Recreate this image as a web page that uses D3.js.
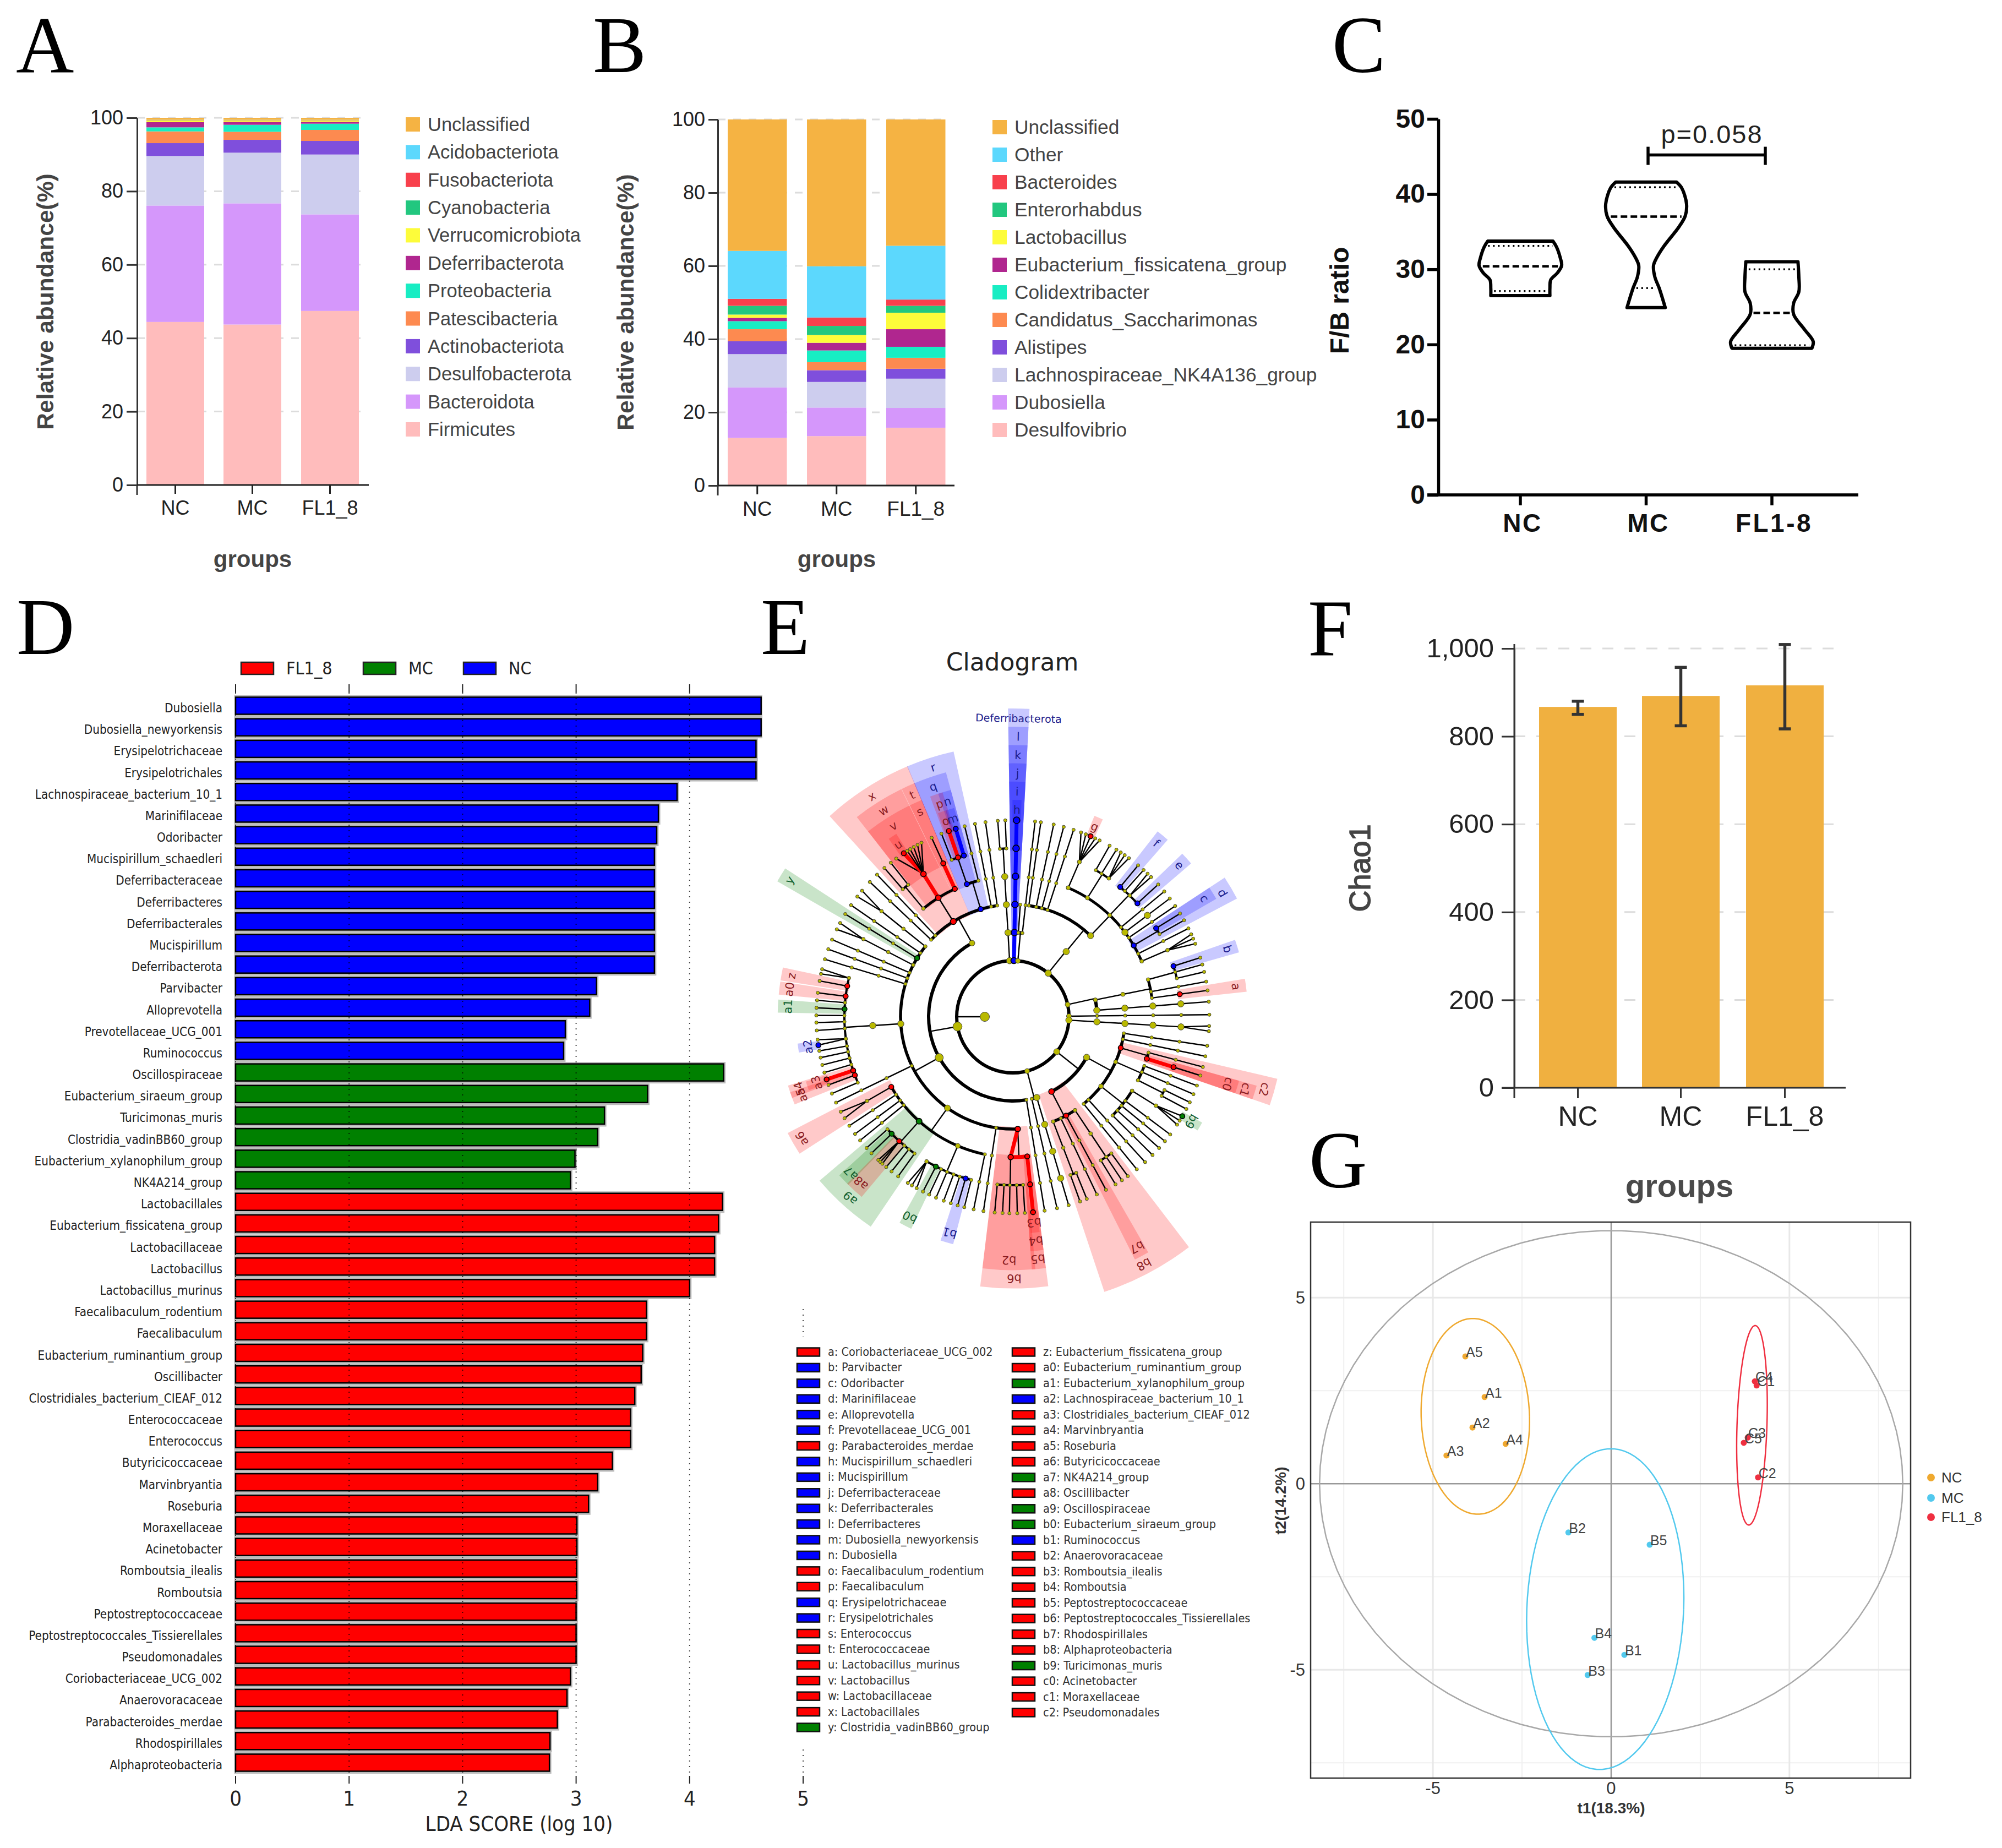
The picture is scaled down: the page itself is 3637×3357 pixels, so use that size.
<!DOCTYPE html>
<html><head><meta charset="utf-8">
<script src="https://cdn.jsdelivr.net/npm/d3@7"></script>
<style>html,body{margin:0;padding:0;background:#fff}svg{display:block}</style>
</head><body><svg id="c" width="3637" height="3357"></svg>
<script>
// ---------- Panel A ----------
const groups3=['NC','MC','FL1_8'];
const phylaNames=['Firmicutes','Bacteroidota','Desulfobacterota','Actinobacteriota','Patescibacteria','Proteobacteria','Deferribacterota','Verrucomicrobiota','Cyanobacteria','Fusobacteriota','Acidobacteriota','Unclassified'];
const phylaNC=[44.4,31.7,13.5,3.5,3.2,1.1,1.4,.5,.05,.05,.05,.55];
const phylaMC=[43.7,33.0,13.8,3.5,2.2,1.9,.8,.4,.05,.05,.05,.55];
const phylaFL=[47.4,26.3,16.3,3.7,3.0,1.7,.5,.4,.05,.05,.05,.55];
// ---------- Panel B ----------
const genusNames=['Desulfovibrio','Dubosiella','Lachnospiraceae_NK4A136_group','Alistipes','Candidatus_Saccharimonas','Colidextribacter','Eubacterium_fissicatena_group','Lactobacillus','Enterorhabdus','Bacteroides','Other','Unclassified'];
const genusNC=[13,13.8,9.1,3.5,3.3,2.2,.9,.9,2.4,1.9,13.1,35.9];
const genusMC=[13.5,7.8,7,3.2,2.2,3.2,2.1,2.1,2.5,2.3,14,40.1];
const genusFL=[15.8,5.4,8,2.7,3,3,4.8,4.5,1.9,1.7,14.7,34.5];
const stackColors=['#ffbcbc','#d597fb','#cdcdee','#7f4fdc','#fd8a50','#18edc3','#b0268f','#fdfc3a','#22c77f','#f8404c','#5cd8fd','#f5b343'];
const stackTicks=[0,20,40,60,80,100];
// ---------- Panel C ----------
const violinGroups=['NC','MC','FL1-8'];
const violinNC=[[33.75,75],[33,83],[31.5,92],[30.5,95],[29.5,85],[28.6,70],[27.5,68],[26.5,68]];
const violinMC=[[41.6,70],[40.8,82],[38.7,93],[37.1,90],[35.6,75],[33,40],[31.5,24],[30.5,17],[29,20],[27.5,30],[24.9,44]];
const violinFL=[[31,60],[29,62],[27,62],[25.5,50],[24,50],[22,75],[20.4,95],[19.5,92]];
const violinMedian=[30.4,37.0,24.2];
const violinQ1=[27.1,27.5,19.9];
const violinQ3=[33.1,40.9,30.0];
const violinTicks=[0,10,20,30,40,50];
// ---------- Panel D ----------
const ldaNames=['Dubosiella','Dubosiella_newyorkensis','Erysipelotrichaceae','Erysipelotrichales','Lachnospiraceae_bacterium_10_1','Marinifilaceae','Odoribacter','Mucispirillum_schaedleri','Deferribacteraceae','Deferribacteres','Deferribacterales','Mucispirillum','Deferribacterota','Parvibacter','Alloprevotella','Prevotellaceae_UCG_001','Ruminococcus','Oscillospiraceae','Eubacterium_siraeum_group','Turicimonas_muris','Clostridia_vadinBB60_group','Eubacterium_xylanophilum_group','NK4A214_group','Lactobacillales','Eubacterium_fissicatena_group','Lactobacillaceae','Lactobacillus','Lactobacillus_murinus','Faecalibaculum_rodentium','Faecalibaculum','Eubacterium_ruminantium_group','Oscillibacter','Clostridiales_bacterium_CIEAF_012','Enterococcaceae','Enterococcus','Butyricicoccaceae','Marvinbryantia','Roseburia','Moraxellaceae','Acinetobacter','Romboutsia_ilealis','Romboutsia','Peptostreptococcaceae','Peptostreptococcales_Tissierellales','Pseudomonadales','Coriobacteriaceae_UCG_002','Anaerovoracaceae','Parabacteroides_merdae','Rhodospirillales','Alphaproteobacteria'];
const ldaScores=[4.63,4.63,4.585,4.585,3.89,3.725,3.71,3.69,3.69,3.69,3.69,3.69,3.69,3.18,3.12,2.905,2.89,4.30,3.63,3.25,3.19,2.99,2.95,4.29,4.255,4.22,4.22,4.0,3.62,3.62,3.587,3.573,3.517,3.48,3.48,3.32,3.19,3.11,3.007,3.007,3.005,3.005,3.0,3.0,3.0,2.95,2.92,2.835,2.77,2.765];
const ldaGroupCounts=[['NC',17],['MC',6],['FL1_8',27]];
const ldaLegend=['FL1_8','MC','NC'];
const ldaColor={FL1_8:'#ff0000',MC:'#008000',NC:'#0000ff'};
// ---------- Panel E legend ----------
const cladeLegend1=[['a','Coriobacteriaceae_UCG_002','FL1_8'],['b','Parvibacter','NC'],['c','Odoribacter','NC'],['d','Marinifilaceae','NC'],['e','Alloprevotella','NC'],['f','Prevotellaceae_UCG_001','NC'],['g','Parabacteroides_merdae','FL1_8'],['h','Mucispirillum_schaedleri','NC'],['i','Mucispirillum','NC'],['j','Deferribacteraceae','NC'],['k','Deferribacterales','NC'],['l','Deferribacteres','NC'],['m','Dubosiella_newyorkensis','NC'],['n','Dubosiella','NC'],['o','Faecalibaculum_rodentium','FL1_8'],['p','Faecalibaculum','FL1_8'],['q','Erysipelotrichaceae','NC'],['r','Erysipelotrichales','NC'],['s','Enterococcus','FL1_8'],['t','Enterococcaceae','FL1_8'],['u','Lactobacillus_murinus','FL1_8'],['v','Lactobacillus','FL1_8'],['w','Lactobacillaceae','FL1_8'],['x','Lactobacillales','FL1_8'],['y','Clostridia_vadinBB60_group','MC']];
const cladeLegend2=[['z','Eubacterium_fissicatena_group','FL1_8'],['a0','Eubacterium_ruminantium_group','FL1_8'],['a1','Eubacterium_xylanophilum_group','MC'],['a2','Lachnospiraceae_bacterium_10_1','NC'],['a3','Clostridiales_bacterium_CIEAF_012','FL1_8'],['a4','Marvinbryantia','FL1_8'],['a5','Roseburia','FL1_8'],['a6','Butyricicoccaceae','FL1_8'],['a7','NK4A214_group','MC'],['a8','Oscillibacter','FL1_8'],['a9','Oscillospiraceae','MC'],['b0','Eubacterium_siraeum_group','MC'],['b1','Ruminococcus','NC'],['b2','Anaerovoracaceae','FL1_8'],['b3','Romboutsia_ilealis','FL1_8'],['b4','Romboutsia','FL1_8'],['b5','Peptostreptococcaceae','FL1_8'],['b6','Peptostreptococcales_Tissierellales','FL1_8'],['b7','Rhodospirillales','FL1_8'],['b8','Alphaproteobacteria','FL1_8'],['b9','Turicimonas_muris','MC'],['c0','Acinetobacter','FL1_8'],['c1','Moraxellaceae','FL1_8'],['c2','Pseudomonadales','FL1_8']];
// Cladogram: nested clades, numbers are leaf angles (degrees clockwise from top).
const cladeTree=[
 [{at:-100},
  [{at:-29},-46.7,-43.7,
   ['x',[-40.8,-38.4],['w',['v',-36.4,{k:'u',a:-33.7},-32.5,-31.5,-30.3,-29,-27.7]],['t',['s',-24.4]]],
   ['r',['q',-21.3,['p',{k:'o',a:-19}],['n',{k:'m',a:-16.9}]],-14.2],
   -11.1,-8],
  [{at:-119},
   [[[-52.3,-50.1]]],-55.4,{k:'y',a:-58.5},[[[-63.6,-61.5]]],-66.9,-69.9,-73,
   [{at:-93.6},[{at:-93.6},[-77.4,-76],['z',-79.5],['a0',-83],-85.2,['a1',-87.4],-89.6,-91.7,-94,[-96.7,{k:'a2',a:-98.3}],-100,-102,-104.2,-106.5,['a4',{k:'a3',a:-108.6}],['a5',-110.3],-113]],
   -115.9,
   [{at:-144.4},
    ['a6',[-118.9,-121.1]],-123.7,-126.6,-129,
    ['a9',-131.9,['a7',-134],['a8',-136.8,-137.6,-138.4],-139.9,-141.9,-144.3],
    [{at:-156.9},[-147.7,-149.1,-150.7],['b0',-152.8],-154.8,-157,-159.4,-161.6,['b1',-163.7],-165.7],
    -168.5],
   -171.4,
   ['b6',['b2',-174.7,-177,-179,-181.3,-183.5],['b5',['b4',{k:'b3',a:-185.9}]]]],
  -189.3],
 [[[[-4.4,-2.2]]]],
 ['D',['l',['k',['j',['i',{k:'h',a:1.1}]]]]],
 [{a:3.8,end:3},6.5],
 [{at:39},[{at:39.3},8.2,12,15,18,
   [{at:43.8},
    [[20.3,21.8,{k:'g',a:23.3},24.8,26.2]],
    [29.5,31.8,[33.3,34.7,36.2]],
    [['f',39.6],41.7,[43.3,44.7],['e',47.7]],
    50.4,53,55.7,
    ['d',['c',58.3],60.6],
    63.3,
    [[65.2,66.6,68.2]]]]],
 [{at:77.5},[[[['b',72.5],74.6,76.8],79.7,[['a',82.3]]]],85.6],
 89.4,
 [[[[[92.7,94.2]]]]],
 [{at:128.5},
  [{at:118.8},98.5,101.6,
   ['c2',['c1',['c0',107.4]],104.8],
   [110.5,113.2,[115.8,118]],
   [[[{k:'b9',a:120.4},121.9,123.3]],126.8,129.3,131.9,134.7],
   137.7,140.9],
  ['b8',[[144.2,146.3,148.5]],['b7',151.7],154.7,[[157.9,160]]]],
 [163.5,167]
];
const cladeThickKeys=['l','k','j','i','h','v','u','s','o','m','c0','a3','b2','b5','b4','b3'];
const cladeNames={D:'Deferribacterota'};
const cladeBigAngles=[163.5,85.6,53,93.45,-3.3,39.3,76.4,-93.6,118.8];
// ---------- Panel F ----------
const chaoMeans=[867,892,916];
const chaoLow=[850,824,817];
const chaoHigh=[880,957,1009];
const chaoTicks=[0,200,400,600,800,1000];
// ---------- Panel G ----------
const pcaLabels=['A1','A2','A3','A4','A5','B1','B2','B3','B4','B5','C1','C2','C3','C4','C5'];
const pcaT1=[-3.55,-3.89,-4.62,-2.96,-4.09,.37,-1.2,-.66,-.47,1.08,4.08,4.12,3.83,4.03,3.72];
const pcaT2=[2.33,1.51,.76,1.07,3.42,-4.6,-1.31,-5.14,-4.14,-1.64,2.64,.17,1.24,2.75,1.1];
const pcaGroup=['NC','NC','NC','NC','NC','MC','MC','MC','MC','MC','FL1_8','FL1_8','FL1_8','FL1_8','FL1_8'];
const pcaColor={NC:'#efa92f',MC:'#52c9ee',FL1_8:'#ef2f40'};
// cx, cy, semi-x, semi-y, shear of the confidence ellipses
const pcaEllipses=[['NC',-3.81,1.81,1.52,2.63,-.07],['MC',-.166,-3.37,2.2,4.31,.16],['FL1_8',3.95,1.57,.42,2.68,.09]];
const pcaOuterEllipse=[0,0,8.18,6.8];

const svg=d3.select('#c');
const LS='"Liberation Sans",Arial,sans-serif', SERIF='"Liberation Serif",serif', DJ='"DejaVu Sans",sans-serif';
function txt(g,x,y,s,o={}){
 const t=g.append('text').attr('x',x).attr('y',y).text(s)
  .attr('font-size',o.size||30).style('font-family',o.font||LS).attr('font-weight',o.weight||400)
  .attr('fill',o.fill||'#222').attr('text-anchor',o.anchor||'start');
 if(o.rot!=null)t.attr('transform',`rotate(${o.rot} ${x} ${y})`);
 if(o.ls)t.attr('letter-spacing',o.ls);
 if(o.stretch)t.style('font-stretch',o.stretch);
 return t;
}
function letter(s,x,y){txt(svg,x,y,s,{size:146,font:SERIF,fill:'#000'});}

function stackPanel(o){
 const g=svg.append('g');
 const y=d3.scaleLinear([0,100],[o.y0,o.y100]);
 const x=d3.scaleOrdinal(groups3,o.barX);
 const rows=groups3.map((c,i)=>{const r={c};o.names.forEach((n,j)=>r[n]=o.vals[i][j]);return r;});
 const st=d3.stack().keys(o.names)(rows);
 g.append('g').selectAll('line').data(stackTicks.slice(1)).join('line')
  .attr('x1',o.axisX).attr('x2',o.gridEnd).attr('y1',y).attr('y2',y)
  .attr('stroke','#dcdcdc').attr('stroke-width',3).attr('stroke-dasharray','14 14');
 st.forEach((s,i)=>{
  g.append('g').attr('fill',stackColors[i]).selectAll('rect').data(s).join('rect')
   .attr('x',d=>x(d.data.c)).attr('width',o.barW)
   .attr('y',d=>y(d[1])).attr('height',d=>y(d[0])-y(d[1]));
 });
 const ax=g.append('g').attr('transform',`translate(${o.axisX},0)`)
  .call(d3.axisLeft(y).tickValues(stackTicks).tickSize(o.tick).tickSizeOuter(0).tickPadding(6));
 ax.selectAll('text').attr('font-size',o.tickFont).style('font-family',LS).attr('fill','#222');
 ax.selectAll('line,path').attr('stroke','#333').attr('stroke-width',3);
 g.append('line').attr('x1',o.axisX).attr('x2',o.axisX).attr('y1',o.y0).attr('y2',o.y0+18).attr('stroke','#333').attr('stroke-width',3);
 g.append('line').attr('x1',o.axisX).attr('x2',o.xEnd).attr('y1',o.y0).attr('y2',o.y0).attr('stroke','#222').attr('stroke-width',3);
 groups3.forEach((c,i)=>{
  g.append('line').attr('x1',x(c)+o.barW/2).attr('x2',x(c)+o.barW/2).attr('y1',o.y0).attr('y2',o.y0+16).attr('stroke','#222').attr('stroke-width',3);
  txt(g,x(c)+o.barW/2,o.xLabelY,c,{size:o.xFont,anchor:'middle',fill:'#222'});
 });
 txt(g,o.titleX,o.titleY,'Relative abundance(%)',{size:42.5,weight:700,fill:'#444',anchor:'middle',rot:-90});
 txt(g,o.groupsX,1030,'groups',{size:42,weight:700,fill:'#444',anchor:'middle'});
 const rev=o.names.map((n,i)=>[n,stackColors[i]]).reverse();
 const ly=d3.scalePoint(rev.map(d=>d[0]),[o.leg0,o.leg1]);
 rev.forEach(([n,col])=>{
  g.append('rect').attr('x',o.legX).attr('y',ly(n)-13).attr('width',o.legW).attr('height',26).attr('fill',col);
  txt(g,o.legTx,ly(n)+12,n,{size:o.legFont,fill:'#444'});
 });
}
stackPanel({names:phylaNames,vals:[phylaNC,phylaMC,phylaFL],y0:881,y100:214,axisX:249,barX:[266,406,547],barW:105,gridEnd:656,xEnd:670,tick:19,tickFont:36,xFont:36,xLabelY:935,titleX:97,titleY:548,groupsX:459,legX:737,legW:26,leg0:226,leg1:780,legTx:777,legFont:34.5});
stackPanel({names:genusNames,vals:[genusNC,genusMC,genusFL],y0:882,y100:217,axisX:1304,barX:[1322,1466,1610],barW:107.5,gridEnd:1720,xEnd:1734,tick:17,tickFont:36,xFont:37,xLabelY:937,titleX:1151,titleY:549,groupsX:1520,legX:1803,legW:26,leg0:231,leg1:781,legTx:1843,legFont:35.3});

// ---------- C ----------
(function(){
 const g=svg.append('g');
 const y=d3.scaleLinear([0,50],[899,216]);
 const x=d3.scalePoint(violinGroups,[2762,3219]);
 const w=d3.scaleLinear([0,95],[0,75]);
 const ax=g.append('g').attr('transform','translate(2613,0)').call(d3.axisLeft(y).tickValues(violinTicks).tickSize(20).tickSizeOuter(0).tickPadding(4));
 ax.selectAll('text').attr('font-size',48).attr('font-weight',700).style('font-family',LS).attr('fill','#111');
 ax.selectAll('line,path').attr('stroke','#000').attr('stroke-width',5.5);
 g.append('line').attr('x1',2593).attr('x2',3376).attr('y1',899).attr('y2',899).attr('stroke','#000').attr('stroke-width',5.5);
 violinGroups.forEach((c,i)=>{
  g.append('line').attr('x1',x(c)).attr('x2',x(c)).attr('y1',899).attr('y2',918).attr('stroke','#000').attr('stroke-width',5.5);
  txt(g,x(c)+4,966,c,{size:46,weight:700,anchor:'middle',fill:'#111',ls:i==2?3.5:2.5});
 });
 txt(g,2450,546,'F/B ratio',{size:48,weight:700,anchor:'middle',rot:-90,fill:'#111'});
 [violinNC,violinMC,violinFL].forEach((p,i)=>{
  const c=x(violinGroups[i]);
  const R=d3.line().x(d=>c+w(d[1])).y(d=>y(d[0])).curve(d3.curveCatmullRom.alpha(.5));
  const L=d3.line().x(d=>c-w(d[1])).y(d=>y(d[0])).curve(d3.curveCatmullRom.alpha(.5));
  g.append('path').attr('d',R(p)+'L'+L(p.slice().reverse()).slice(1)+'Z').attr('fill','none').attr('stroke','#000').attr('stroke-width',6).attr('stroke-linejoin','round');
  const hw=d3.scaleLinear(p.map(d=>d[0]).reverse(),p.map(d=>d[1]).reverse());
  const seg=(v,dash,sw)=>g.append('line').attr('x1',c-w(hw(v))+6).attr('x2',c+w(hw(v))-6).attr('y1',y(v)).attr('y2',y(v)).attr('stroke','#000').attr('stroke-width',sw).attr('stroke-dasharray',dash);
  seg(violinMedian[i],'12 6',4.5);seg(violinQ1[i],'3 6',3.5);seg(violinQ3[i],'3 6',3.5);
 });
 const by=y(45.2);
 g.append('line').attr('x1',2994).attr('x2',3207).attr('y1',by).attr('y2',by).attr('stroke','#000').attr('stroke-width',5.5);
 [2994,3207].forEach(v=>g.append('line').attr('x1',v).attr('x2',v).attr('y1',by-15).attr('y2',by+18).attr('stroke','#000').attr('stroke-width',5.5));
 txt(g,3110,260,'p=0.058',{size:47,anchor:'middle',fill:'#222',ls:2});
})();

// ---------- D ----------
(function(){
 const g=svg.append('g');
 const x=d3.scaleLinear([0,5],[428,1459]);
 const y=d3.scalePoint(ldaNames,[1282,3202]);
 const grp=ldaGroupCounts.flatMap(([n,k])=>Array(k).fill(n));
 const barH=31;
 const rows=ldaNames.map((n,i)=>({n,v:ldaScores[i],g:grp[i]}));
 g.append('g').selectAll('rect').data(rows).join('rect').attr('x',x(0)).attr('y',d=>y(d.n)-barH/2-1).attr('width',d=>x(d.v)-x(0)+1).attr('height',barH+3).attr('fill','none').attr('stroke','#bbb').attr('stroke-width',5);
 g.append('g').selectAll('rect').data(rows).join('rect').attr('x',x(0)).attr('y',d=>y(d.n)-barH/2).attr('width',d=>x(d.v)-x(0)).attr('height',barH).attr('fill',d=>ldaColor[d.g]).attr('stroke','#000').attr('stroke-width',2.5);
 const gx=d3.range(0,6);
 g.append('g').selectAll('line').data(gx).join('line').attr('x1',x).attr('x2',x).attr('y1',1258).attr('y2',3226).attr('stroke','#000').attr('stroke-width',2).attr('stroke-dasharray','2 8').attr('opacity',.75);
 g.append('g').selectAll('line').data(gx).join('line').attr('x1',x).attr('x2',x).attr('y1',1243).attr('y2',1258).attr('stroke','#222').attr('stroke-width',2);
 g.append('g').selectAll('line').data(gx).join('line').attr('x1',x).attr('x2',x).attr('y1',3226).attr('y2',3240).attr('stroke','#222').attr('stroke-width',2);
 rows.forEach(d=>txt(g,404,y(d.n)+12,d.n,{size:22.3,font:DJ,stretch:'condensed',anchor:'end',fill:'#222'}));
 gx.forEach(v=>txt(g,x(v),3280,v,{size:38,font:DJ,stretch:'condensed',anchor:'middle',fill:'#222'}));
 txt(g,943,3326,'LDA SCORE (log 10)',{size:38,font:DJ,stretch:'condensed',anchor:'middle',fill:'#222'});
 const lx=d3.scaleOrdinal(ldaLegend,[438,660,842]);
 ldaLegend.forEach(n=>{
  g.append('rect').attr('x',lx(n)).attr('y',1203).attr('width',59).attr('height',22).attr('fill',ldaColor[n]).attr('stroke','#222').attr('stroke-width',2.5);
  txt(g,lx(n)+82,1225,n,{size:32,font:DJ,stretch:'condensed',fill:'#222'});
 });
})();

// ---------- E ----------
(function(){
 svg.append('rect').attr('x',1385).attr('y',1130).attr('width',975).attr('height',1247).attr('fill','#fff');
 svg.append('rect').attr('x',1430).attr('y',2429).attr('width',900).attr('height',741).attr('fill','#fff');
 const cx=1840,cy=1847;
 const G=svg.append('g').attr('transform',`translate(${cx},${cy})`);
 txt(svg,1839,1218,'Cladogram',{size:44,font:DJ,anchor:'middle',fill:'#222'});
 const groupOf={D:'NC'};[...cladeLegend1,...cladeLegend2].forEach(d=>groupOf[d[0]]=d[2]);
 const labelCol={FL1_8:'#8a1c22',MC:'#12602f',NC:'#1d1d8c'};
 const rad=a=>a*Math.PI/180;
 const rLevel=d3.scaleLinear([0,6],[51,357]);
 const rLabel=d3.scaleLinear([6,1],[376,542]);
 function parse(s,d){
  if(typeof s==='number')return parse({a:s},d);
  if(!Array.isArray(s)){
   const n={a:s.a,k:s.k,depth0:d,children:[]};
   const end=s.end||6;
   if(d<end)n.children=[parse({a:s.a,end},d+1)];
   return n;
  }
  let rest=s,n={depth0:d};
  if(typeof s[0]==='string'){n.k=s[0];rest=s.slice(1);}
  else if(typeof s[0].at==='number'){n.at=s[0].at;rest=s.slice(1);}
  n.children=rest.map(c=>parse(c,d+1));
  const ext=d3.extent(n.children,c=>c.a);
  n.a=n.at!=null?n.at:(ext[0]+ext[1])/2;
  return n;
 }
 const rootSpec={a:-90,depth0:0,children:cladeTree.map(c=>parse(c,1))};
 const root=d3.hierarchy(rootSpec);
 const nodes=root.descendants();
 const nr=d=>rLevel(d.depth);
 const pt=(a,r)=>d3.pointRadial(rad(a),r);
 const sizeS=d3.scaleSqrt([1,60],[3,7.5]);
 const arcGen=d3.arc();
 const marked=nodes.filter(d=>d.data.k);
 marked.sort((a,b)=>a.depth-b.depth);
 marked.forEach(d=>{
  const ls=d.leaves().map(l=>l.data.a);
  const pad=d.depth>=6?1.2:(['D','l','k','j','i'].includes(d.data.k)?2:1.6);
  const [a0,a1]=d3.extent(ls);
  d.mid=(a0+a1)/2;
  const col=ldaColor[groupOf[d.data.k]];
  G.append('path').attr('d',arcGen({innerRadius:nr(d)-4,outerRadius:rLabel(d.depth)+18,startAngle:rad(a0-pad),endAngle:rad(a1+pad)}))
   .attr('fill',col).attr('opacity',.21);
 });
 const L=G.append('g');
 const radial=d3.lineRadial().angle(d=>rad(d[0])).radius(d=>d[1]);
 const ringW=[6,6,6,5.5,5,4,4];
 nodes.filter(d=>d.children).forEach(d=>{
  const kids=d.children,rc=rLevel(d.depth+1);
  if(d.depth===5){
   kids.forEach(c=>{
    const th=cladeThickKeys.includes(c.data.k);
    L.append('path').attr('d',d3.line()([pt(d.data.a,nr(d)),pt(c.data.a,rc)])).attr('stroke',th?ldaColor[groupOf[c.data.k]]:'#000').attr('stroke-width',th?7:2.4).attr('fill','none');
   });
   return;
  }
  const ext=d3.extent(kids,c=>c.data.a);
  const bpThick=d.depth>0&&kids.length===1&&cladeThickKeys.includes(kids[0].data.k);
  if(d.depth===0){
   L.append('path').attr('d',radial([[-90,nr(d)],[-90,rc]])).attr('stroke','#000').attr('stroke-width',2.4).attr('fill','none');
   L.append('circle').attr('r',rc).attr('fill','none').attr('stroke','#000').attr('stroke-width',ringW[1]);
   return;
  }
  if(!bpThick)L.append('path').attr('d',radial([[d.data.a,nr(d)],[d.data.a,rc]])).attr('stroke','#000').attr('stroke-width',2.4).attr('fill','none');
  if(ext[1]-ext[0]>.01){
   const k=d.data.k==='b6'?ldaColor.FL1_8:'#000';
   const w=d.data.k==='b6'?7:ringW[d.depth+1];
   L.append('path').attr('d',arcGen({innerRadius:rc-w/2,outerRadius:rc+w/2,startAngle:rad(ext[0]),endAngle:rad(ext[1])})).attr('fill',k);
  }
  kids.forEach(c=>{
   if(cladeThickKeys.includes(c.data.k)){
    const col=ldaColor[groupOf[c.data.k]];
    if(d.data.k==='b6'&&c.data.k==='b5')return;
    L.append('path').attr('d',d3.line()([pt(kids.length===1?d.data.a:(d.data.k==='b6'?d.data.a:c.data.a),kids.length===1||d.data.k==='b6'?nr(d):rc),pt(c.data.a,rc)])).attr('stroke',col).attr('stroke-width',7).attr('fill','none');
   }
  });
 });
 const N=G.append('g');
 nodes.forEach(d=>{
  const p=d.depth===0?pt(-90,51):pt(d.data.a,nr(d));
  const k=d.data.k;
  const lc=d.leaves().length;
  let r=d.depth===0?8.5:sizeS(lc);
  if(d.depth===1)r=Math.max(r,4.5);
  if(d.depth>0&&d.depth<6&&cladeBigAngles.some(v=>Math.abs(v-d.data.a)<.01))r=Math.max(r,5.8);
  if(k)r=Math.max(r+1,4.5);
  if(['l','k','j','i','h'].includes(k))r=6;
  N.append('circle').attr('cx',p[0]).attr('cy',p[1]).attr('r',r)
   .attr('fill',k?ldaColor[groupOf[k]]:'#b9b900').attr('stroke',k?'#000':'#333').attr('stroke-width',k?1.6:.9);
 });
 marked.forEach(d=>{
  const k=d.data.k;
  const p=pt(d.mid,rLabel(d.depth));
  G.append('text').attr('transform',`translate(${p[0]},${p[1]}) rotate(${d.mid})`).attr('text-anchor','middle').attr('dy','.35em')
   .style('font-family',DJ).attr('font-size',k==='D'?19:21).attr('fill',labelCol[groupOf[k]]).text(cladeNames[k]||k);
 });
 const Lg=svg.append('g');
 const col1=d3.scalePoint(cladeLegend1.map(d=>d[0]),[2456,3138]);
 const col2=d3.scaleLinear([0,23],[2456,3111]);
 const draw=(d,x,y)=>{
  Lg.append('rect').attr('x',x).attr('y',y-7.5).attr('width',41).attr('height',15).attr('fill',ldaColor[d[2]]).attr('stroke','#111').attr('stroke-width',2.5);
  txt(Lg,x+56,y+7,`${d[0]}: ${d[1]}`,{size:21.5,font:DJ,stretch:'condensed',fill:'#333'});
 };
 cladeLegend1.forEach(d=>draw(d,1448,col1(d[0])));
 cladeLegend2.forEach((d,i)=>draw(d,1839,col2(i)));
})();

// ---------- F ----------
(function(){
 const g=svg.append('g');
 const y=d3.scaleLinear([0,1000],[1976,1178]);
 const x=d3.scaleOrdinal(groups3,[2796,2983,3172]);
 g.append('g').selectAll('line').data(chaoTicks.slice(1)).join('line').attr('x1',2751).attr('x2',3340).attr('y1',y).attr('y2',y).attr('stroke','#dcdcdc').attr('stroke-width',3).attr('stroke-dasharray','20 20');
 g.append('g').selectAll('rect').data(groups3).join('rect').attr('x',d=>x(d)).attr('width',141).attr('y',(d,i)=>y(chaoMeans[i])).attr('height',(d,i)=>y(0)-y(chaoMeans[i])).attr('fill','#f0b040');
 const ax=g.append('g').attr('transform','translate(2751,0)').call(d3.axisLeft(y).tickValues(chaoTicks).tickFormat(d3.format(',')).tickSize(23).tickSizeOuter(0).tickPadding(14));
 ax.selectAll('text').attr('font-size',49).style('font-family',LS).attr('fill','#222');
 ax.selectAll('line,path').attr('stroke','#333').attr('stroke-width',3);
 g.append('line').attr('x1',2751).attr('x2',2751).attr('y1',1170).attr('y2',1995).attr('stroke','#333').attr('stroke-width',3);
 g.append('line').attr('x1',2728).attr('x2',3353).attr('y1',1976).attr('y2',1976).attr('stroke','#333').attr('stroke-width',3);
 groups3.forEach((c,i)=>{
  const m=x(c)+70.5;
  g.append('line').attr('x1',m).attr('x2',m).attr('y1',1976).attr('y2',1995).attr('stroke','#333').attr('stroke-width',3);
  txt(g,m,2045,c,{size:50,anchor:'middle',fill:'#222'});
  g.append('line').attr('x1',m).attr('x2',m).attr('y1',y(chaoHigh[i])).attr('y2',y(chaoLow[i])).attr('stroke','#333').attr('stroke-width',5.5);
  [chaoHigh[i],chaoLow[i]].forEach(v=>g.append('line').attr('x1',m-11).attr('x2',m+11).attr('y1',y(v)).attr('y2',y(v)).attr('stroke','#333').attr('stroke-width',5.5));
 });
 txt(g,2489,1577,'Chao1',{size:54,anchor:'middle',rot:-90,fill:'#444'}).attr('stroke','#444').attr('stroke-width',1.5);
})();

// ---------- G ----------
(function(){
 const g=svg.append('g');
 const x=d3.scaleLinear([-8.43,8.4],[2381,3471]);
 const y=d3.scaleLinear([-7.91,7.03],[3230,2220]);
 [-7.5,-2.5,2.5,7.5].forEach(v=>g.append('line').attr('x1',x(v)).attr('x2',x(v)).attr('y1',2220).attr('y2',3230).attr('stroke','#f0f0f0').attr('stroke-width',2));
 [-7.5,-2.5,2.5].forEach(v=>g.append('line').attr('x1',2381).attr('x2',3471).attr('y1',y(v)).attr('y2',y(v)).attr('stroke','#f0f0f0').attr('stroke-width',2));
 [-5,5].forEach(v=>{
  g.append('line').attr('x1',x(v)).attr('x2',x(v)).attr('y1',2220).attr('y2',3230).attr('stroke','#e8e8e8').attr('stroke-width',3);
  g.append('line').attr('x1',2381).attr('x2',3471).attr('y1',y(v)).attr('y2',y(v)).attr('stroke','#e8e8e8').attr('stroke-width',3);
 });
 g.append('line').attr('x1',x(0)).attr('x2',x(0)).attr('y1',2220).attr('y2',3230).attr('stroke','#999').attr('stroke-width',2.5);
 g.append('line').attr('x1',2381).attr('x2',3471).attr('y1',y(0)).attr('y2',y(0)).attr('stroke','#999').attr('stroke-width',2.5);
 const ts=d3.range(0,361,4).map(t=>t*Math.PI/180);
 const line=d3.line();
 const [ocx,ocy,orx,ory]=pcaOuterEllipse;
 g.append('path').attr('d',line(ts.map(t=>[x(ocx+orx*Math.cos(t)),y(ocy+ory*Math.sin(t))]))).attr('fill','none').attr('stroke','#a8a8a8').attr('stroke-width',2.5);
 pcaEllipses.forEach(([n,cx,cy,a,b,sh])=>{
  g.append('path').attr('d',line(ts.map(t=>[x(cx+a*Math.cos(t)+sh*Math.sin(t)),y(cy+b*Math.sin(t))]))).attr('fill','none').attr('stroke',pcaColor[n]).attr('stroke-width',2.5);
 });
 g.append('rect').attr('x',2381).attr('y',2220).attr('width',1090).attr('height',1010).attr('fill','none').attr('stroke','#333').attr('stroke-width',2.5);
 pcaLabels.forEach((l,i)=>{
  g.append('circle').attr('cx',x(pcaT1[i])).attr('cy',y(pcaT2[i])).attr('r',5.5).attr('fill',pcaColor[pcaGroup[i]]);
  txt(g,x(pcaT1[i])+1,y(pcaT2[i])+1,l,{size:25,fill:'#444'});
 });
 [-5,0,5].forEach(v=>{
  txt(g,x(v),3259,v,{size:31,anchor:'middle',fill:'#333'});
  txt(g,2371,y(v)+11,v,{size:31,anchor:'end',fill:'#333'});
 });
 txt(g,2927,3294,'t1(18.3%)',{size:28,weight:700,anchor:'middle',fill:'#333'});
 txt(g,2336,2726,'t2(14.2%)',{size:28,weight:700,anchor:'middle',rot:-90,fill:'#333'});
 txt(g,3051,2174,'groups',{size:58,weight:700,anchor:'middle',fill:'#4a4a4a'});
 const ly=d3.scaleOrdinal(groups3,[2684,2721,2756]);
 groups3.forEach(n=>{
  g.append('circle').attr('cx',3508).attr('cy',ly(n)).attr('r',7).attr('fill',pcaColor[n]);
  txt(g,3527,ly(n)+9,n,{size:26,fill:'#333'});
 });
})();

letter('A',29,131);letter('B',1077,131);letter('C',2420,131);
letter('D',30,1188);letter('E',1382,1188);letter('F',2376,1190);letter('G',2378,2157);
</script></body></html>
